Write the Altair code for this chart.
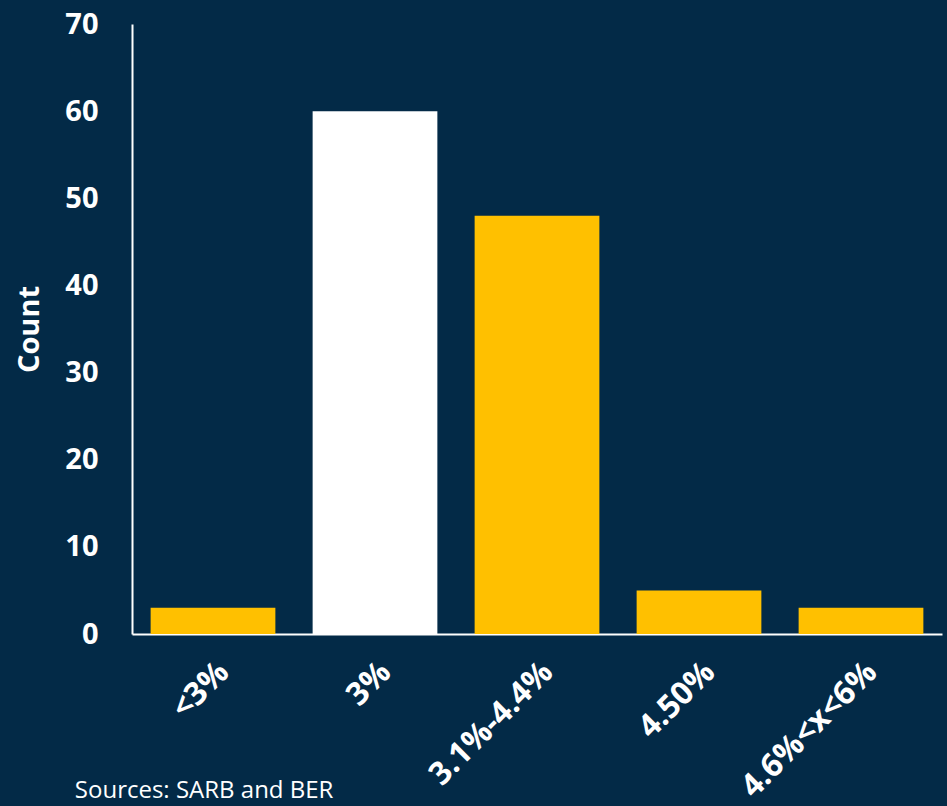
import altair as alt
import pandas as pd

categories = ["<3%", "3%", "3.1%-4.4%", "4.50%", "4.6%<x<6%"]
counts = [3, 60, 48, 5, 3]
highlight = ["no", "yes", "no", "no", "no"]

df = pd.DataFrame({"cat": categories, "count": counts, "hl": highlight})

BG = "#032A47"

chart = alt.Chart(df).mark_bar().encode(
    x=alt.X("cat:N", sort=categories,
            scale=alt.Scale(paddingInner=0.23, paddingOuter=0.115),
            axis=alt.Axis(title=None, labelAngle=-45, labelFontSize=32,
                          labelFontWeight="bold", labelColor="white",
                          labelFont="Open Sans", ticks=False,
                          domainColor="white", domainWidth=2,
                          labelPadding=22)),
    y=alt.Y("count:Q", scale=alt.Scale(domain=[0, 70]),
            axis=alt.Axis(title="Count", values=[0, 10, 20, 30, 40, 50, 60, 70],
                          labelFontSize=29, labelFontWeight="bold",
                          labelColor="white", labelFont="Open Sans",
                          ticks=False, grid=False, domainColor="white",
                          domainWidth=2, labelPadding=34,
                          titleFontSize=29, titleFontWeight="bold",
                          titleColor="white", titleFont="Open Sans",
                          titlePadding=20)),
    color=alt.Color("hl:N", scale=alt.Scale(domain=["no", "yes"],
                                             range=["#FFC000", "#FFFFFF"]),
                    legend=None),
).properties(
    width=810,
    height=610,
    background=BG,
    padding={"left": 132, "top": 24, "right": 5, "bottom": 172},
    autosize=alt.AutoSizeParams(type="none"),
    title=alt.TitleParams("Sources: SARB and BER", orient="bottom",
                          anchor="start", dx=59, offset=0, dy=-24,
                          fontSize=24, font="Open Sans", fontWeight="normal",
                          color="white"),
).configure_view(stroke=None)

chart.save("out.html", embed_options={"renderer": "svg", "actions": False})
